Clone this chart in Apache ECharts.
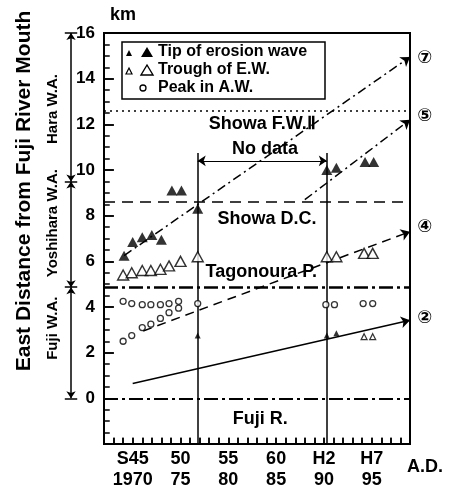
<!DOCTYPE html>
<html>
<head>
<meta charset="utf-8">
<script src="https://cdn.jsdelivr.net/npm/echarts@6/dist/echarts.min.js"></script>
<style>
  html, body { margin: 0; padding: 0; background: #fff; }
  #chart { width: 453px; height: 491px; }
</style>
</head>
<body>
<div id="chart"></div>
<script>
// x axis tick labels (Japanese era / A.D.)
var yearLabels = { 1970: 'S45\n1970', 1975: '50\n75', 1980: '55\n80', 1985: '60\n85', 1990: 'H2\n90', 1995: 'H7\n95' };

// tip of erosion wave [year, km]
var tipBig = [[1969.1, 6.25], [1970.0, 6.85], [1971.0, 7.05], [1972.0, 7.15], [1973.0, 6.95],
  [1974.1, 9.1], [1975.1, 9.1], [1976.8, 8.3], [1990.3, 10.0], [1991.3, 10.1], [1994.3, 10.35], [1995.2, 10.35]];
var tipSmall = [[1976.8, 2.75], [1990.3, 2.75], [1991.3, 2.85]];

// trough of erosion wave
var troughBig = [[1969.0, 5.4], [1969.9, 5.5], [1971.0, 5.6], [1971.9, 5.6], [1972.9, 5.65], [1973.8, 5.8],
  [1975.0, 6.0], [1976.8, 6.2], [1990.3, 6.2], [1991.3, 6.2], [1994.2, 6.35], [1995.1, 6.35]];
var troughSmall = [[1994.2, 2.7], [1995.1, 2.7]];

// peak in accretion wave
var peak = [[1969.0, 4.25], [1969.9, 4.15], [1971.0, 4.1], [1971.9, 4.1], [1972.9, 4.1], [1973.8, 4.15], [1974.8, 4.25],
  [1969.0, 2.5], [1969.9, 2.75], [1971.0, 3.1], [1971.9, 3.25], [1972.9, 3.5], [1973.8, 3.75], [1974.8, 3.95],
  [1976.8, 4.15], [1990.2, 4.1], [1991.1, 4.1], [1994.1, 4.15], [1995.1, 4.15]];

// trend lines, start and end
var trend2 = [[1970.0, 0.65], [1999, 3.42]];
var trend4 = [[1971.1, 2.95], [1999, 7.3]];
var trend5 = [[1988.0, 8.7], [1999, 12.2]];
var trend7 = [[1969.1, 6.25], [1999, 14.95]];
var trendNames = ['②', '④', '⑤', '⑦'];
var trendEndKm = [3.5, 7.45, 12.35, 14.87];

// coastal structures (km)
var showaFW = 12.6, showaDC = 8.6, tagonoura = 4.85, fujiR = 0;
var structNames = ['Showa F.W.Ⅱ', 'Showa D.C.', 'Tagonoura P.', 'Fuji R.'];

// no data period
var noData = [1976.8, 1990.3];

// wave areas
var waBounds = [0, 4.87, 9.5, 16];
var waNames = ['Fuji W.A.', 'Yoshihara W.A.', 'Hara W.A.'];

var xMin = 1967, xMax = 1999, yMin = -2, yMax = 16;

var chart = echarts.init(document.getElementById('chart'));
var font = "'Liberation Sans', Arial, sans-serif";
var black = '#000';

function lineSeries(pts, type, width, sym, size) {
  return {
    type: 'lines', coordinateSystem: 'cartesian2d', clip: false, silent: true, z: 3,
    symbol: sym || 'none', symbolSize: size || 9,
    lineStyle: { color: black, width: width, type: type, opacity: 1, curveness: 0 },
    data: [{ coords: pts }]
  };
}

function textLabel(size, fam, rot) {
  return {
    show: true, position: [0, 0], align: 'center', verticalAlign: 'middle', rotate: rot || 0,
    formatter: '{b}', color: black, opacity: 1, textBorderWidth: 0,
    fontSize: size, fontWeight: 'bold', fontFamily: fam || font
  };
}

var series = [];
// horizontal structures
series.push(lineSeries([[xMin, showaFW], [xMax, showaFW]], [2, 4], 1.5));
series.push(lineSeries([[xMin, showaDC], [xMax, showaDC]], [11, 7], 1.5));
series.push(lineSeries([[xMin, tagonoura], [xMax, tagonoura]], [14, 4, 3, 4], 2.5));
series.push(lineSeries([[xMin, fujiR], [xMax, fujiR]], [14, 4, 3, 4], 2));
// no data period
series.push(lineSeries([[noData[0], 10.75], [noData[0], yMin]], 'solid', 1.5));
series.push(lineSeries([[noData[1], 10.75], [noData[1], yMin]], 'solid', 1.5));
series.push(lineSeries([[noData[0], 10.4], [noData[1], 10.4]], 'solid', 1.2, ['arrow', 'arrow'], 8));
// trends
series.push(lineSeries(trend2, 'solid', 1.5, ['none', 'arrow']));
series.push(lineSeries(trend4, [9, 6], 1.5, ['none', 'arrow']));
series.push(lineSeries(trend5, [9, 4, 2, 4], 1.5, ['none', 'arrow']));
series.push(lineSeries(trend7, [9, 4, 2, 4], 1.5, ['none', 'arrow']));
// wave area bracket on the left
for (var i = 0; i < waBounds.length - 1; i++) {
  series.push(lineSeries([[1963.55, waBounds[i]], [1963.55, waBounds[i + 1]]], 'solid', 1.5, ['arrow', 'arrow'], 7));
}
waBounds.forEach(function (k) {
  series.push(lineSeries([[1962.9, k], [1964.2, k]], 'solid', 1.5));
});

// inward tick marks along the axes, one short segment per year and per 0.5 km
for (var yr = xMin; yr <= xMax; yr++) {
  series.push(lineSeries([[yr, yMin], [yr, yMin + 0.28]], 'solid', 1.5));
}
for (var km = yMin; km <= yMax; km += 0.5) {
  var len = (km % 2 === 0) ? 1.0 : 0.6;
  series.push(lineSeries([[xMin, km], [xMin + len, km]], 'solid', 1.5));
}

// points
series.push({ type: 'scatter', name: 'Tip of erosion wave', data: tipBig, symbol: 'triangle', symbolSize: [11, 10], clip: false, z: 5, itemStyle: { color: black } });
series.push({ type: 'scatter', name: 'Tip small', data: tipSmall, symbol: 'triangle', symbolSize: [6, 6], clip: false, z: 5, itemStyle: { color: black } });
series.push({ type: 'scatter', name: 'Trough of E.W.', data: troughBig, symbol: 'triangle', symbolSize: [11, 10], clip: false, z: 5, itemStyle: { color: '#fff', borderColor: black, borderWidth: 1.4 } });
series.push({ type: 'scatter', name: 'Trough small', data: troughSmall, symbol: 'triangle', symbolSize: [6, 6], clip: false, z: 5, itemStyle: { color: '#fff', borderColor: black, borderWidth: 1.2 } });
series.push({ type: 'scatter', name: 'Peak in A.W.', data: peak, symbol: 'circle', symbolSize: 6, clip: false, z: 5, itemStyle: { color: '#fff', borderColor: black, borderWidth: 1.3 } });

// text annotations
var structPos = [[1983.6, 12.0], [1984.1, 7.85], [1983.5, 5.5], [1983.4, -0.95]];
series.push({
  type: 'scatter', symbolSize: 1, clip: false, silent: true, z: 6, itemStyle: { opacity: 0 },
  data: structNames.map(function (n, i) { return { name: n, value: structPos[i] }; })
    .concat([{ name: 'No data', value: [1983.9, 10.9] }]),
  label: textLabel(18)
});
series.push({
  type: 'scatter', symbolSize: 1, clip: false, silent: true, z: 6, itemStyle: { opacity: 0 },
  data: trendNames.map(function (n, i) { return { name: n, value: [2000.6, trendEndKm[i]] }; }),
  label: textLabel(18, "'DejaVu Sans', 'Noto Sans CJK JP', sans-serif")
});
var waLabelKm = [3.05, 7.65, 12.65];
series.push({
  type: 'scatter', symbolSize: 1, clip: false, silent: true, z: 6, itemStyle: { opacity: 0 },
  data: waNames.map(function (n, i) { return { name: n, value: [1961.7, waLabelKm[i]] }; }),
  label: textLabel(15, font, 90)
});

chart.setOption({
  animation: false,
  backgroundColor: '#fff',
  grid: { left: 104, right: 43, top: 33, bottom: 44, show: true, borderColor: black, borderWidth: 2 },
  xAxis: {
    type: 'value', min: xMin, max: xMax, interval: 1,
    axisLine: { show: true, onZero: false, lineStyle: { color: black, width: 2 } },
    axisTick: { show: true, inside: true, length: 6, lineStyle: { color: black, width: 1.5 } },
    splitLine: { show: false },
    axisLabel: {
      formatter: function (v) { return yearLabels[v] || ''; },
      color: black, fontSize: 18, fontWeight: 'bold', fontFamily: font, lineHeight: 21, margin: 5
    }
  },
  yAxis: {
    type: 'value', min: yMin, max: yMax, interval: 2,
    axisLine: { show: true, onZero: false, lineStyle: { color: black, width: 2 } },
    axisTick: { show: true, inside: true, length: 10, lineStyle: { color: black, width: 1.5 } },
    splitLine: { show: false },
    axisLabel: {
      formatter: function (v) { return v < 0 ? '' : v; },
      color: black, fontSize: 17, fontWeight: 'bold', fontFamily: font, margin: 9
    }
  },
  graphic: [
    { type: 'text', x: 24, y: 191, rotation: Math.PI / 2, style: { text: 'East Distance from Fuji River Mouth', fill: black, font: 'bold 21px ' + font, align: 'center', verticalAlign: 'middle' } },
    { type: 'text', x: 110, y: 15, style: { text: 'km', fill: black, font: 'bold 18px ' + font, verticalAlign: 'middle' } },
    { type: 'text', x: 407, y: 467, style: { text: 'A.D.', fill: black, font: 'bold 18px ' + font, verticalAlign: 'middle' } },
    // legend box
    { type: 'rect', z: 10, shape: { x: 122, y: 42, width: 203, height: 57 }, style: { fill: '#fff', stroke: black, lineWidth: 1.5 } },
    { type: 'polygon', z: 11, shape: { points: [[126, 56], [132, 56], [129, 50]] }, style: { fill: black } },
    { type: 'polygon', z: 11, shape: { points: [[141, 57], [153, 57], [147, 47]] }, style: { fill: black } },
    { type: 'polygon', z: 11, shape: { points: [[126, 74], [132, 74], [129, 68]] }, style: { fill: '#fff', stroke: black, lineWidth: 1.2 } },
    { type: 'polygon', z: 11, shape: { points: [[141, 75], [153, 75], [147, 65]] }, style: { fill: '#fff', stroke: black, lineWidth: 1.4 } },
    { type: 'circle', z: 11, shape: { cx: 143, cy: 88, r: 3 }, style: { fill: '#fff', stroke: black, lineWidth: 1.3 } },
    { type: 'text', z: 11, x: 158, y: 52, style: { text: 'Tip of erosion wave', fill: black, font: 'bold 16px ' + font, verticalAlign: 'middle' } },
    { type: 'text', z: 11, x: 158, y: 70, style: { text: 'Trough of E.W.', fill: black, font: 'bold 16px ' + font, verticalAlign: 'middle' } },
    { type: 'text', z: 11, x: 158, y: 88, style: { text: 'Peak in A.W.', fill: black, font: 'bold 16px ' + font, verticalAlign: 'middle' } }
  ],
  series: series
});
</script>
</body>
</html>
